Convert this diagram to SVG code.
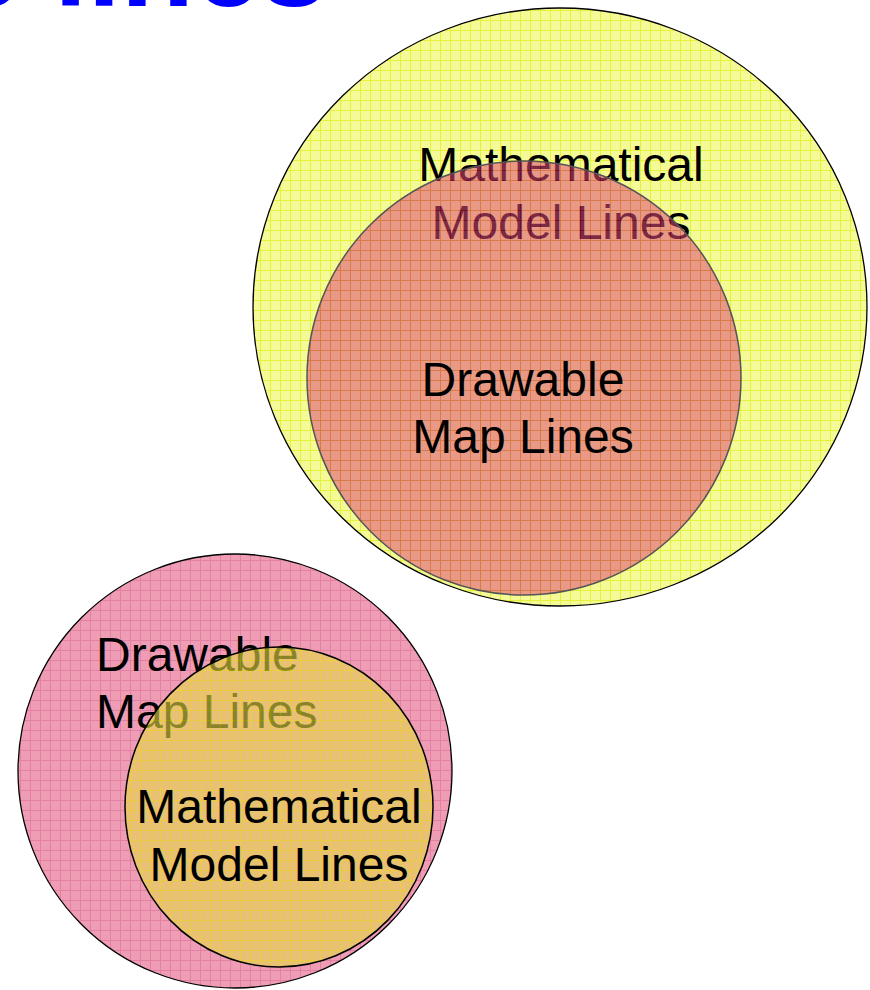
<svg xmlns="http://www.w3.org/2000/svg" width="870" height="990" viewBox="0 0 870 990">
<defs>
<pattern id="yellowGrid" width="10" height="10" patternUnits="userSpaceOnUse">
<rect width="10" height="10" fill="#f4fa98"/>
<path d="M0 0.5H10M0.5 0V10" stroke="#e6f23a" stroke-width="1"/>
</pattern>
<pattern id="pinkGrid" width="10" height="10" patternUnits="userSpaceOnUse">
<rect width="10" height="10" fill="#e04c78"/>
<path d="M0 0.5H10M0.5 0V10" stroke="#cc1858" stroke-width="1"/>
</pattern>
<pattern id="yellowGlass" width="10" height="10" patternUnits="userSpaceOnUse">
<rect width="10" height="10" fill="#e4d948"/>
<path d="M0 0.5H10M0.5 0V10" stroke="#f2ff00" stroke-width="1"/>
</pattern>
</defs>
<style>
.lbl{font-family:"Liberation Sans",Arial,sans-serif;font-size:48px;fill:#000}
.c{text-anchor:middle}
.title{font-family:"Liberation Sans",Arial,sans-serif;font-size:120px;font-weight:bold;fill:#0000ff}
</style>
<rect width="870" height="990" fill="#fff"/>
<text class="title" x="-46" y="6">e lines</text>

<g id="top-math">
<ellipse cx="560" cy="307" rx="307" ry="299" fill="url(#yellowGrid)" stroke="#000" stroke-width="1.3"/>
<text class="lbl c" x="561" y="181">Mathematical</text>
<text class="lbl c" x="561" y="239">Model Lines</text>
</g>
<g id="top-map">
<circle cx="524" cy="378" r="217" fill="url(#pinkGrid)" fill-opacity="0.55" stroke="#555" stroke-width="1.5"/>
<text class="lbl c" x="523" y="396">Drawable</text>
<text class="lbl c" x="523" y="453">Map Lines</text>
</g>

<g id="bottom-map">
<circle cx="235" cy="771" r="217" fill="url(#pinkGrid)" fill-opacity="0.55" stroke="#000" stroke-width="1.3"/>
<text class="lbl" x="96" y="671">Drawable</text>
<text class="lbl" x="96" y="728">Map Lines</text>
</g>
<g id="bottom-math">
<ellipse cx="279" cy="807" rx="154" ry="160" fill="url(#yellowGlass)" fill-opacity="0.6" stroke="#000" stroke-width="1.5"/>
<text class="lbl c" x="279" y="823">Mathematical</text>
<text class="lbl c" x="279" y="881">Model Lines</text>
</g>
</svg>
